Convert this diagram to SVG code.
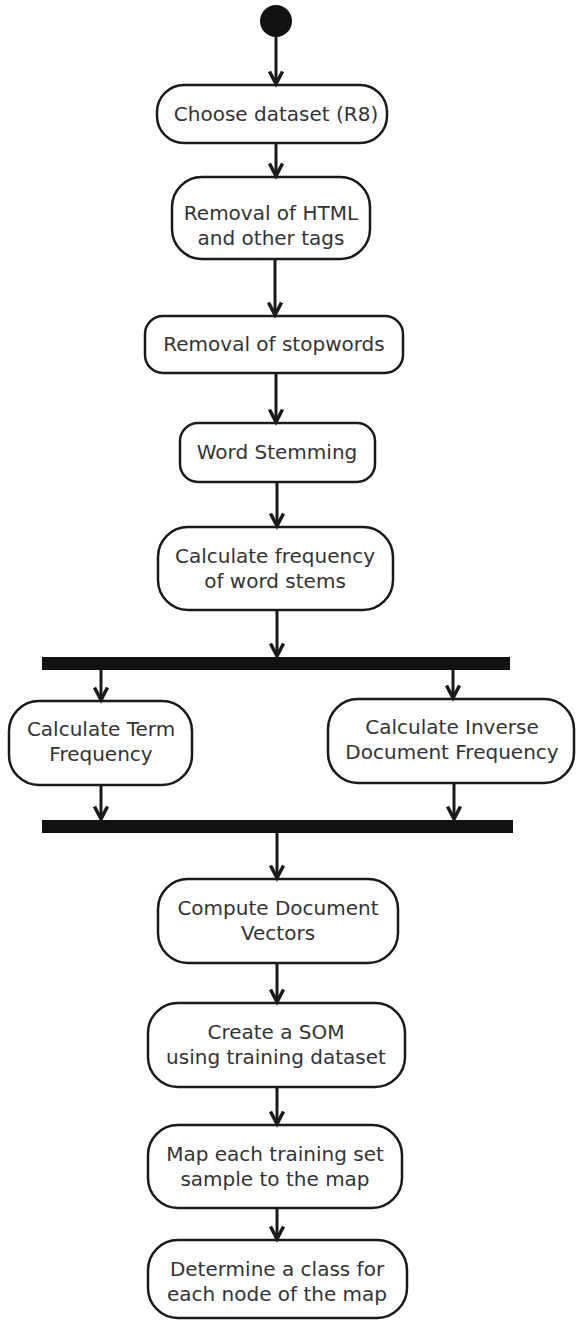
<svg xmlns="http://www.w3.org/2000/svg" width="576" height="1321" viewBox="0 0 576 1321">
  <defs>
    <marker id="arrow" viewBox="0 0 16 16" refX="14" refY="8" markerWidth="16" markerHeight="16" markerUnits="userSpaceOnUse" orient="auto" overflow="visible">
      <path d="M1.5,1.5 L14,8 L1.5,14.5" fill="none" stroke="#1a1a1a" stroke-width="3.5" stroke-linejoin="miter"/>
    </marker>
  </defs>
  <style>
    .act { fill: #ffffff; stroke: #1a1a1a; stroke-width: 2.5; }
    .bar { fill: #111111; }
    .lbl { font-family: "DejaVu Sans", "Liberation Sans", sans-serif; font-size: 20px; fill: #333333; text-anchor: middle; }
    .flow { stroke: #1a1a1a; stroke-width: 3; fill: none; marker-end: url(#arrow); }
  </style>
  <rect width="576" height="1321" fill="#ffffff"/>

  <g id="start">
    <circle cx="276" cy="21" r="16" fill="#111111"/>
  </g>

  <g id="choose-dataset">
    <rect class="act" x="157" y="85" width="230" height="58" rx="27"/>
    <text class="lbl" x="276" y="121">Choose dataset (R8)</text>
  </g>

  <g id="remove-html">
    <rect class="act" x="172" y="177" width="198" height="82" rx="30"/>
    <text class="lbl" x="271" y="220">Removal of HTML</text>
    <text class="lbl" x="271" y="245">and other tags</text>
  </g>

  <g id="remove-stopwords">
    <rect class="act" x="145" y="316" width="258" height="57" rx="18"/>
    <text class="lbl" x="274" y="351">Removal of stopwords</text>
  </g>

  <g id="word-stemming">
    <rect class="act" x="180" y="423" width="195" height="59" rx="18"/>
    <text class="lbl" x="277" y="459">Word Stemming</text>
  </g>

  <g id="stem-frequency">
    <rect class="act" x="158" y="527" width="235" height="83" rx="30"/>
    <text class="lbl" x="275" y="563">Calculate frequency</text>
    <text class="lbl" x="275" y="588">of word stems</text>
  </g>

  <g id="fork">
    <rect class="bar" x="42" y="657" width="468" height="13"/>
  </g>

  <g id="term-frequency">
    <rect class="act" x="9" y="701" width="183" height="84" rx="30"/>
    <text class="lbl" x="101" y="736">Calculate Term</text>
    <text class="lbl" x="101" y="761">Frequency</text>
  </g>

  <g id="inverse-document-frequency">
    <rect class="act" x="328" y="699" width="246" height="84" rx="30"/>
    <text class="lbl" x="452" y="734">Calculate Inverse</text>
    <text class="lbl" x="452" y="759">Document Frequency</text>
  </g>

  <g id="join">
    <rect class="bar" x="42" y="820" width="471" height="13"/>
  </g>

  <g id="document-vectors">
    <rect class="act" x="158" y="879" width="240" height="84" rx="30"/>
    <text class="lbl" x="278" y="915">Compute Document</text>
    <text class="lbl" x="278" y="940">Vectors</text>
  </g>

  <g id="create-som">
    <rect class="act" x="148" y="1003" width="257" height="84" rx="30"/>
    <text class="lbl" x="276" y="1039">Create a SOM</text>
    <text class="lbl" x="276" y="1064">using training dataset</text>
  </g>

  <g id="map-samples">
    <rect class="act" x="148" y="1125" width="254" height="83" rx="30"/>
    <text class="lbl" x="275" y="1161">Map each training set</text>
    <text class="lbl" x="275" y="1186">sample to the map</text>
  </g>

  <g id="assign-classes">
    <rect class="act" x="148" y="1240" width="259" height="78" rx="30"/>
    <text class="lbl" x="277" y="1276">Determine a class for</text>
    <text class="lbl" x="277" y="1301">each node of the map</text>
  </g>

  <g id="connectors">
    <line class="flow" x1="276" y1="37" x2="276" y2="84"/>
    <line class="flow" x1="276" y1="143" x2="276" y2="176"/>
    <line class="flow" x1="275" y1="259" x2="275" y2="315"/>
    <line class="flow" x1="276" y1="373" x2="276" y2="422"/>
    <line class="flow" x1="277" y1="482" x2="277" y2="526"/>
    <line class="flow" x1="277" y1="610" x2="277" y2="656"/>
    <line class="flow" x1="101" y1="670" x2="101" y2="700"/>
    <line class="flow" x1="453" y1="670" x2="453" y2="698"/>
    <line class="flow" x1="101" y1="785" x2="101" y2="819"/>
    <line class="flow" x1="454" y1="783" x2="454" y2="819"/>
    <line class="flow" x1="277" y1="833" x2="277" y2="878"/>
    <line class="flow" x1="277" y1="963" x2="277" y2="1002"/>
    <line class="flow" x1="277" y1="1087" x2="277" y2="1124"/>
    <line class="flow" x1="277" y1="1208" x2="277" y2="1239"/>
  </g>
</svg>
